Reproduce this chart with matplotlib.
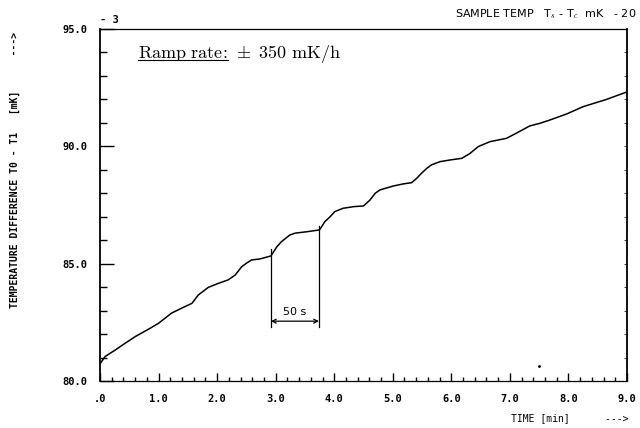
import numpy as np
import matplotlib
matplotlib.use("Agg")
import matplotlib.pyplot as plt

# lecture du trace (temps en min, dT en mK)
time_min = [0.0, 0.085, 0.26, 0.43, 0.60, 0.83, 1.00, 1.22, 1.39, 1.57, 1.68,
            1.85, 2.02, 2.19, 2.31, 2.42, 2.50, 2.59, 2.73, 2.92, 3.02, 3.10,
            3.24, 3.33, 3.53, 3.75, 3.84, 3.93, 4.01, 4.15, 4.33, 4.50, 4.61,
            4.70, 4.78, 4.87, 5.01, 5.18, 5.32, 5.41, 5.49, 5.58, 5.66, 5.81,
            5.98, 6.18, 6.32, 6.46, 6.66, 6.80, 6.94, 7.11, 7.34, 7.51, 7.68,
            7.97, 8.25, 8.65, 9.00]
temp_diff = [80.73, 81.04, 81.32, 81.61, 81.89, 82.21, 82.46, 82.89, 83.10,
             83.31, 83.67, 83.99, 84.16, 84.31, 84.52, 84.87, 85.02, 85.16,
             85.20, 85.33, 85.72, 85.94, 86.22, 86.30, 86.36, 86.44, 86.79,
             87.00, 87.22, 87.36, 87.43, 87.46, 87.71, 88.00, 88.14, 88.21,
             88.31, 88.40, 88.45, 88.64, 88.85, 89.06, 89.21, 89.35, 89.42,
             89.49, 89.70, 89.99, 90.20, 90.27, 90.34, 90.56, 90.87, 90.98,
             91.12, 91.38, 91.69, 92.00, 92.32]

# marqueur 50 s
t_left, t_right = 2.92, 3.74
y_bot = 82.3
y_top_left, y_top_right = 85.63, 86.6
y_arrow = 82.55

xticks = [0, 1, 2, 3, 4, 5, 6, 7, 8, 9]
xtick_labels = ['.0', '1.0', '2.0', '3.0', '4.0', '5.0', '6.0', '7.0', '8.0', '9.0']
yticks = [80, 85, 90, 95]
ytick_labels = ['80.0', '85.0', '90.0', '95.0']

mono = 'DejaVu Sans Mono'
plt.rcParams['mathtext.fontset'] = 'cm'

fig = plt.figure(figsize=(6.4, 4.28), dpi=100)
ax = fig.add_axes([0.15625, 0.1098, 0.8234, 0.8224])

ax.plot(time_min, temp_diff, color='black', lw=1.1)
ax.set_xlim(0, 9)
ax.set_ylim(80, 95)

# axes facon table tracante
ax.set_xticks(xticks)
ax.set_xticklabels(xtick_labels, family=mono, fontweight='bold', fontsize=7.5)
ax.set_xticks(np.arange(0, 9.01, 0.2), minor=True)
ax.set_yticks(yticks)
ax.set_yticklabels(ytick_labels, family=mono, fontweight='bold', fontsize=7.5)
ax.set_yticks(np.arange(80, 95.01, 1.0), minor=True)
ax.tick_params(axis='x', which='major', direction='in', length=6, width=1, pad=9)
ax.tick_params(axis='x', which='minor', direction='in', length=3, width=1)
ax.tick_params(axis='y', which='major', direction='in', length=10, width=1, pad=9)
ax.tick_params(axis='y', which='minor', direction='in', length=5, width=1)
for s in ['left', 'right']:
    ax.spines[s].set_linewidth(1.3)
ax.spines['bottom'].set_linewidth(0.9)
ax.spines['top'].set_linewidth(0.9)

# petits ticks a droite
sec = ax.secondary_yaxis('right')
sec.set_yticks(np.arange(81, 95, 1.0))
sec.set_yticklabels([])
sec.tick_params(direction='in', length=2.5, width=0.8, color='0.3')
sec.spines['right'].set_visible(False)

# annotation 50 s
ax.plot([t_left, t_left], [y_bot, y_top_left], color='black', lw=0.9)
ax.plot([t_right, t_right], [y_bot, y_top_right], color='black', lw=0.9)
ax.annotate('', xy=(t_right, y_arrow), xytext=(t_left, y_arrow),
            arrowprops=dict(arrowstyle='<->', color='black', lw=0.9,
                            shrinkA=0, shrinkB=0, mutation_scale=7))
ax.text((t_left + t_right) / 2, 82.95, '50 s', ha='center', va='center', fontsize=8)

# point isole
ax.plot([7.5], [80.64], 'k.', ms=2)

# ramp rate
t1 = ax.text(0.65, 93.75, r'$\mathrm{Ramp\ rate}\!:$', fontsize=13, va='baseline')
fig.canvas.draw()
bb = t1.get_window_extent().transformed(ax.transData.inverted())
ax.text(bb.x1, 93.75, r'$\ \pm\ 350\ \mathrm{mK/h}$', fontsize=13, va='baseline')
ax.plot([bb.x0, bb.x1], [93.66, 93.66], color='black', lw=0.8)

# textes du haut
fig.text(100 / 640, 1 - 20 / 428, '- 3', family=mono, fontweight='bold',
         fontsize=7.5, ha='left', va='center')
fig.text(636 / 640, 1 - 14 / 428, r'SAMPLE TEMP   T$_s$ - T$_c$  mK   - 20',
         fontsize=8, ha='right', va='center')

fig.text(15 / 640, 1 - 170 / 428,
         'TEMPERATURE DIFFERENCE T0 - T1   [mK]      --->',
         family=mono, fontweight='bold', fontsize=7, rotation=90,
         ha='center', va='center')
fig.text(570 / 640, 1 - 418 / 428, 'TIME [min]      --->', family=mono,
         fontsize=7, ha='center', va='center')

fig.savefig('out.png', dpi=100)
